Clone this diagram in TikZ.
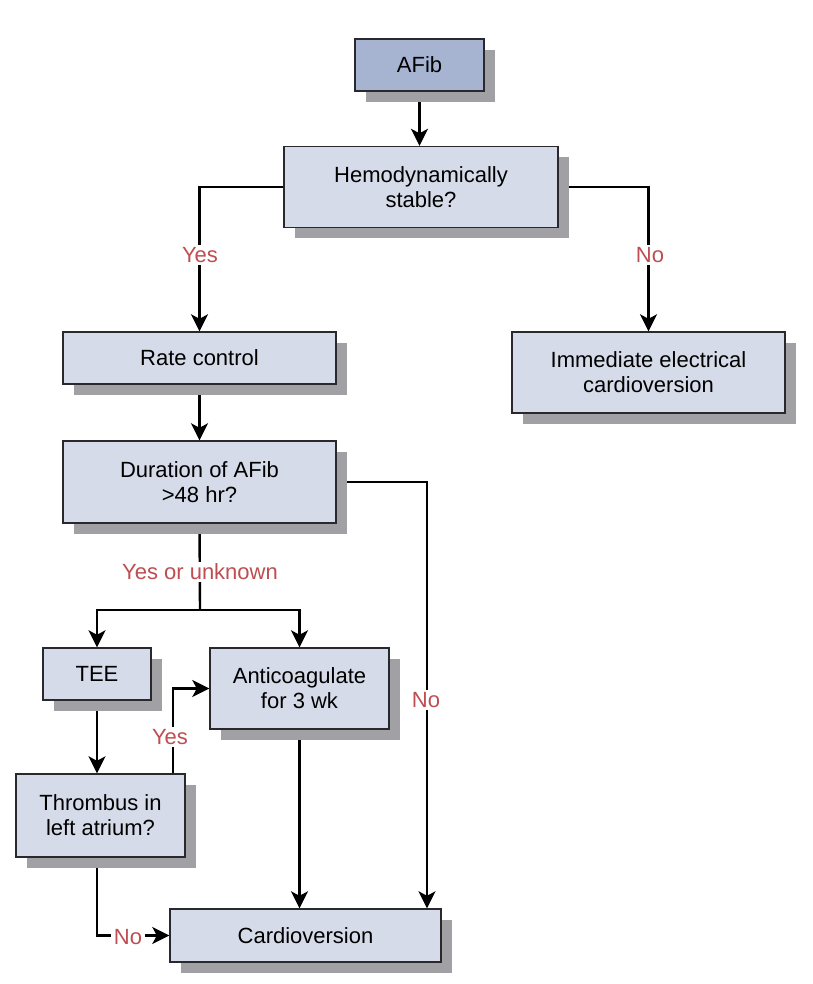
\documentclass[tikz,border=0pt]{standalone}
\usepackage{fontspec}
\setmainfont{Liberation Sans}
\usetikzlibrary{arrows.meta,shadows}
\pgfdeclarelayer{wires}
\pgfsetlayers{wires,main}

\definecolor{boxfill}{RGB}{214,219,233}
\definecolor{startfill}{RGB}{166,180,210}
\definecolor{shade}{RGB}{160,160,165}
\definecolor{labelred}{RGB}{190,78,82}
\definecolor{edge}{RGB}{40,40,45}

\begin{document}
\begin{tikzpicture}[x=1pt,y=-1pt,
  box/.style={draw=edge, line width=1.4pt, fill=boxfill, inner sep=0pt,
    align=center, font=\fontsize{22}{25}\selectfont,
    drop shadow={shadow xshift=11pt, shadow yshift=-11pt, fill=shade, opacity=1}},
  startbox/.style={box, fill=startfill},
  wire/.style={line width=2.4pt, black},
  flow/.style={wire, -{Stealth[length=17pt, width=17pt, inset=4.5pt]}},
  tag/.style={fill=white, inner sep=2pt, text=labelred, font=\fontsize{22}{25}\selectfont}]

\useasboundingbox (0,0) rectangle (812,984);

% boxes
\node[startbox, minimum width=129pt, minimum height=52pt] (afib) at (419.5,65) {AFib};
\node[box, minimum width=274pt, minimum height=81pt] (hemo) at (421,187) {Hemodynamically\\stable?};
\node[box, minimum width=273pt, minimum height=52pt] (rate) at (199.5,358) {Rate control};
\node[box, minimum width=273pt, minimum height=81pt] (imm) at (648.5,372.5) {Immediate electrical\\cardioversion};
\node[box, minimum width=273pt, minimum height=82pt] (dur) at (199.5,482) {Duration of AFib\\>48 hr?};
\node[box, minimum width=108pt, minimum height=52pt] (tee) at (97,674) {TEE};
\node[box, minimum width=179pt, minimum height=81pt] (anti) at (299.5,688.5) {Anticoagulate\\for 3 wk};
\node[box, minimum width=169pt, minimum height=83pt] (thr) at (100.5,815.5) {Thrombus in\\left atrium?};
\node[box, minimum width=271pt, minimum height=53pt] (card) at (305.5,935.5) {Cardioversion};

% routing points
\coordinate (split) at (200,610);
\coordinate (rcol) at (427,0);
\coordinate (ycol) at (173,0);

% connectors
\begin{pgfonlayer}{wires}
  \draw[flow] (afib.south) -- (afib.south |- hemo.north);
  \draw[flow] (hemo.west) -| (rate.north);
  \draw[flow] (hemo.east) -| (imm.north);
  \draw[flow] (rate.south) -- (dur.north);
  \draw[flow] (dur.east) -| (rcol |- card.north);
  \draw[wire] (dur.south) -- (split);
  \draw[flow] (split) -| (tee.north);
  \draw[flow] (split) -| (anti.north);
  \draw[flow] (tee.south) -- (tee.south |- thr.north);
  \draw[flow] (ycol |- thr.north) |- (anti.west);
  \draw[flow] (tee.south |- thr.south) |- (card.west);
  \draw[flow] (anti.south) -- (anti.south |- card.north);
\end{pgfonlayer}

% branch labels
\node[tag] (yes1) at (200,255) {Yes};
\node[tag] (no1) at (650,255) {No};
\node[tag] (yesunk) at (200,572) {Yes or unknown};
\node[tag] (no2) at (426,700) {No};
\node[tag] (yes2) at (170,737) {Yes};
\node[tag, inner xsep=3pt] (no3) at (128,937) {No};
\end{tikzpicture}
\end{document}
